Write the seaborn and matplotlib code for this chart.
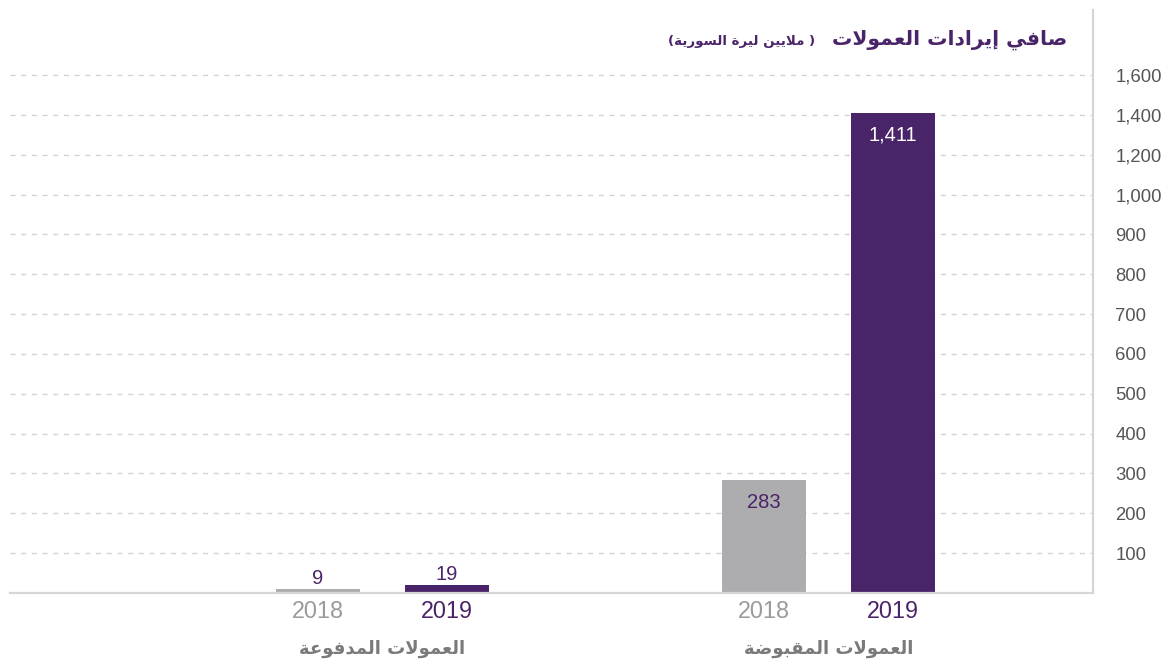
import numpy as np
import pandas as pd
import matplotlib
matplotlib.use("Agg")
import matplotlib.pyplot as plt
import seaborn as sns

# ---------------- data ----------------
categories = ["العمولات المدفوعة", "العمولات المقبوضة"]
years = ["2018", "2019"]
values_2018 = [9, 283]
values_2019 = [19, 1411]
value_labels_2018 = ["9", "283"]
value_labels_2019 = ["19", "1,411"]
ytick_values = [100, 200, 300, 400, 500, 600, 700, 800, 900, 1000, 1200, 1400, 1600]
ytick_labels = ["100", "200", "300", "400", "500", "600", "700", "800", "900",
                "1,000", "1,200", "1,400", "1,600"]
title_text = "صافي إيرادات العمولات"
subtitle_text = "( ملايين ليرة السورية)"

PURPLE = "#4a2468"
GRAY = "#adadb0"
GRID = "#d2d2d2"
SPINE = "#d6d6d6"

# ------------- minimal Arabic shaping (presentation forms + visual order) -------------
_FORMS = {
    "ا": (0xFE8D, 2), "إ": (0xFE87, 2), "ب": (0xFE8F, 4), "ة": (0xFE93, 2),
    "ت": (0xFE95, 4), "د": (0xFEA9, 2), "ر": (0xFEAD, 2), "س": (0xFEB1, 4),
    "ص": (0xFEB9, 4), "ض": (0xFEBD, 4), "ع": (0xFEC9, 4), "ف": (0xFED1, 4),
    "ق": (0xFED5, 4), "ل": (0xFEDD, 4), "م": (0xFEE1, 4), "ن": (0xFEE5, 4),
    "و": (0xFEED, 2), "ي": (0xFEF1, 4),
}
_LAMALEF = {"ا": 0xFEFB, "إ": 0xFEF9}


def shape(text):
    toks = []
    i = 0
    while i < len(text):
        c = text[i]
        if c == "ل" and i + 1 < len(text) and text[i + 1] in _LAMALEF:
            toks.append(("LA", _LAMALEF[text[i + 1]], 2))
            i += 2
            continue
        if c in _FORMS:
            b, n = _FORMS[c]
            toks.append((c, b, n))
        else:
            toks.append((c, None, 0))
        i += 1
    out = []
    for k, (c, b, n) in enumerate(toks):
        if b is None:
            out.append(c)
            continue
        prev = toks[k - 1] if k > 0 else None
        nxt = toks[k + 1] if k + 1 < len(toks) else None
        jp = prev is not None and prev[1] is not None and prev[2] == 4
        jn = n == 4 and nxt is not None and nxt[1] is not None
        out.append(chr(b + (1 if jp else 0) + (2 if jn else 0)))
    vis = "".join(reversed(out))
    return vis.translate(str.maketrans("()", ")("))


# ------------- piecewise y scale (100 steps to 1,000 then 200 steps) -------------
def fwd(v):
    v = np.asarray(v, dtype=float)
    return np.where(v <= 1000, v / 100.0, 10 + (v - 1000) / 200.0)


def inv(u):
    u = np.asarray(u, dtype=float)
    return np.where(u <= 10, u * 100.0, 1000 + (u - 10) * 200.0)


sns.set_theme(style="white")
plt.rcParams["font.family"] = ["Liberation Sans", "DejaVu Sans"]

W, H = 1172, 664
fig = plt.figure(figsize=(W / 100, H / 100), dpi=100)
ax = fig.add_axes([10 / W, 71 / H, 1083 / W, 583 / H])

df = pd.DataFrame({
    "category": categories * 2,
    "year": [years[0]] * len(categories) + [years[1]] * len(categories),
    "value": values_2018 + values_2019,
})

sns.barplot(data=df, x="category", y="value", hue="year", order=categories,
            hue_order=years, palette={years[0]: GRAY, years[1]: PURPLE},
            width=0.578, gap=0.348, saturation=1, linewidth=0, legend=False,
            errorbar=None, ax=ax)

ax.set_yscale("function", functions=(fwd, inv))
ax.set_ylim(0, 1926)
ax.set_xlim(-0.835, 1.593)

ax.yaxis.tick_right()
ax.set_yticks(ytick_values, ytick_labels)
ax.tick_params(axis="y", length=0, pad=16, labelsize=13.3, labelcolor="#555555")
ax.set_xticks([])
ax.set_xlabel("")
ax.set_ylabel("")
ax.yaxis.grid(True, color=GRID, linewidth=1.0, linestyle=(0, (3.6, 4.1)))
ax.xaxis.grid(False)
ax.set_axisbelow(True)

for s in ["left", "top"]:
    ax.spines[s].set_visible(False)
for s in ["right", "bottom"]:
    ax.spines[s].set_color(SPINE)
    ax.spines[s].set_linewidth(1.6)

# value labels
label_sets = [value_labels_2018, value_labels_2019]
for ci, (cont, labs) in enumerate(zip(ax.containers, label_sets)):
    for bar, lab in zip(cont, labs):
        xc = bar.get_x() + bar.get_width() / 2
        h = bar.get_height()
        top_px = ax.transData.transform((xc, h))[1] - ax.transData.transform((xc, 0))[1]
        if top_px > 40:
            color = "white" if ci == 1 else PURPLE
            ax.annotate(lab, xy=(xc, h), xytext=(0, -16), textcoords="offset points",
                        ha="center", va="center", fontsize=14.5, color=color)
        else:
            ax.annotate(lab, xy=(xc, h), xytext=(0, 1), textcoords="offset points",
                        ha="center", va="bottom", fontsize=14.5, color=PURPLE)

# year labels under each bar
year_colors = ["#9b9b9d", PURPLE]
trans = ax.get_xaxis_transform()
for ci, cont in enumerate(ax.containers):
    for bar in cont:
        xc = bar.get_x() + bar.get_width() / 2
        ax.annotate(years[ci], xy=(xc, 0), xycoords=trans, xytext=(0, -13),
                    textcoords="offset points", ha="center", va="center",
                    fontsize=16.8, color=year_colors[ci])

# category labels
for i, cat in enumerate(categories):
    ax.annotate(shape(cat), xy=(i, 0), xycoords=trans, xytext=(0, -40),
                textcoords="offset points", ha="center", va="center",
                fontsize=13, fontweight="bold", color="#7a7a7a",
                family=["DejaVu Sans"])

# title and subtitle
fig.text(1067 / W, 1 - 40 / H, shape(title_text), ha="right", va="center",
         fontsize=14.6, fontweight="bold", color=PURPLE, family=["DejaVu Sans"])
fig.text(815 / W, 1 - 42 / H, shape(subtitle_text), ha="right", va="center",
         fontsize=9.6, fontweight="bold", color=PURPLE, family=["DejaVu Sans"])

fig.savefig("out.png", dpi=100)
